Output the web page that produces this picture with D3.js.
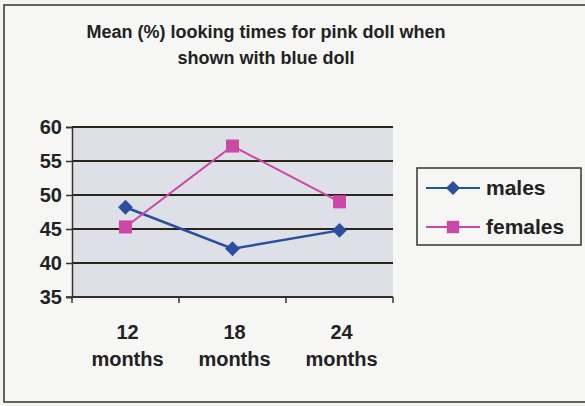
<!DOCTYPE html>
<html>
<head>
<meta charset="utf-8">
<script src="https://cdn.jsdelivr.net/npm/d3@7"></script>
<style>
  html, body { margin: 0; padding: 0; background: #f3f3f1; }
  svg { display: block; }
  text { font-family: "Liberation Sans", Arial, sans-serif; font-weight: bold; fill: #222; }
</style>
</head>
<body>
<div id="chart"></div>
<script>
/* data */
const categories = ["12 months", "18 months", "24 months"];
const males = [48.2, 42.1, 44.8];
const females = [45.3, 57.2, 49.0];
const yTicks = [35, 40, 45, 50, 55, 60];
const titleLines = ["Mean (%) looking times for pink doll when", "shown with blue doll"];
const seriesNames = ["males", "females"];

function drawChart() {
  const fullW = 585, fullH = 406;
  const plot = { left: 72, top: 127, right: 393, bottom: 297 };

  const svg = d3.select("#chart").append("svg")
    .attr("width", fullW).attr("height", fullH);

  /* outer frame */
  svg.append("rect")
    .attr("x", 4).attr("y", 5).attr("width", 590).attr("height", 397)
    .attr("fill", "#f6f6f4").attr("stroke", "#333").attr("stroke-width", 1.5);

  /* title */
  svg.append("g").selectAll("text")
    .data(titleLines)
    .join("text")
      .attr("x", 266).attr("y", (d, i) => 38 + i * 26)
      .attr("text-anchor", "middle")
      .style("font-size", "18px")
      .text(d => d);

  const x = d3.scaleBand().domain(categories).range([plot.left, plot.right]);
  const y = d3.scaleLinear().domain([35, 60]).range([plot.bottom, plot.top]);

  /* plot area */
  svg.append("rect")
    .attr("x", plot.left).attr("y", plot.top)
    .attr("width", plot.right - plot.left).attr("height", plot.bottom - plot.top)
    .attr("fill", "#dee0e8");

  /* grid lines */
  svg.append("g").selectAll("line")
    .data(yTicks)
    .join("line")
      .attr("x1", plot.left).attr("x2", plot.right)
      .attr("y1", d => y(d)).attr("y2", d => y(d))
      .attr("stroke", "#2a2518").attr("stroke-width", 2);

  /* axes */
  svg.append("g")
    .attr("transform", `translate(${plot.left},0)`)
    .call(d3.axisLeft(y).tickValues(yTicks).tickSize(6).tickPadding(4))
    .call(g => g.select(".domain").attr("stroke", "#333").attr("stroke-width", 1.5))
    .call(g => g.selectAll(".tick line").attr("stroke", "#333").attr("stroke-width", 1.5))
    .call(g => g.selectAll("text")
      .attr("fill", "#222")
      .style("font-size", "20px")
      .style("font-family", "Liberation Sans, Arial, sans-serif")
      .style("font-weight", "bold"));

  const xAxis = svg.append("g")
    .attr("transform", `translate(0,${plot.bottom})`)
    .call(d3.axisBottom(x).tickSize(0).tickFormat(""))
    .call(g => g.select(".domain").remove());

  xAxis.append("line")
    .attr("x1", plot.left - 6).attr("x2", plot.right)
    .attr("stroke", "#333").attr("stroke-width", 1.5);

  const xEdges = categories.map(c => x(c)).concat([plot.right]);
  xAxis.selectAll(".edge")
    .data(xEdges)
    .join("line")
      .attr("class", "edge")
      .attr("x1", d => d).attr("x2", d => d)
      .attr("y1", 0).attr("y2", 6)
      .attr("stroke", "#333").attr("stroke-width", 1.5);

  const lx = d => x(d) + x.bandwidth() / 2 + 2;
  const xl = svg.append("g").selectAll("text")
    .data(categories)
    .join("text")
      .attr("x", lx)
      .attr("y", 339)
      .attr("text-anchor", "middle")
      .style("font-size", "20px");
  xl.append("tspan").attr("x", lx).text(d => d.split(" ")[0]);
  xl.append("tspan").attr("x", lx).attr("dy", 27).text(d => d.split(" ")[1]);

  /* lines */
  const cx = c => x(c) + x.bandwidth() / 2;
  const line = d3.line().x(d => cx(d.c)).y(d => y(d.v));
  const series = [
    { name: seriesNames[0], values: males, color: "#2b4f9c", rot: 45, size: 110, width: 2.5 },
    { name: seriesNames[1], values: females, color: "#cc47a6", rot: 0, size: 170, width: 2 }
  ];

  series.forEach(s => {
    const data = s.values.map((v, i) => ({ c: categories[i], v }));
    svg.append("path")
      .datum(data)
      .attr("fill", "none")
      .attr("stroke", s.color)
      .attr("stroke-width", s.width)
      .attr("d", line);
    svg.append("g").selectAll("path")
      .data(data)
      .join("path")
        .attr("transform", d => `translate(${cx(d.c)},${y(d.v)}) rotate(${s.rot})`)
        .attr("d", d3.symbol().type(d3.symbolSquare).size(s.size))
        .attr("fill", s.color);
  });

  /* legend */
  const lg = svg.append("g");
  lg.append("rect")
    .attr("x", 417).attr("y", 168).attr("width", 164).attr("height", 77)
    .attr("fill", "#f6f6f4").attr("stroke", "#333").attr("stroke-width", 1.5);
  series.forEach((s, i) => {
    const ly = 188 + i * 39;
    lg.append("line")
      .attr("x1", 426).attr("x2", 480).attr("y1", ly).attr("y2", ly)
      .attr("stroke", s.color).attr("stroke-width", 2);
    lg.append("path")
      .attr("transform", `translate(453,${ly}) rotate(${s.rot})`)
      .attr("d", d3.symbol().type(d3.symbolSquare).size(s.size * 0.9))
      .attr("fill", s.color);
    lg.append("text")
      .attr("x", 486).attr("y", ly + 7)
      .style("font-size", "21px")
      .text(s.name);
  });
}

drawChart();
</script>
</body>
</html>
